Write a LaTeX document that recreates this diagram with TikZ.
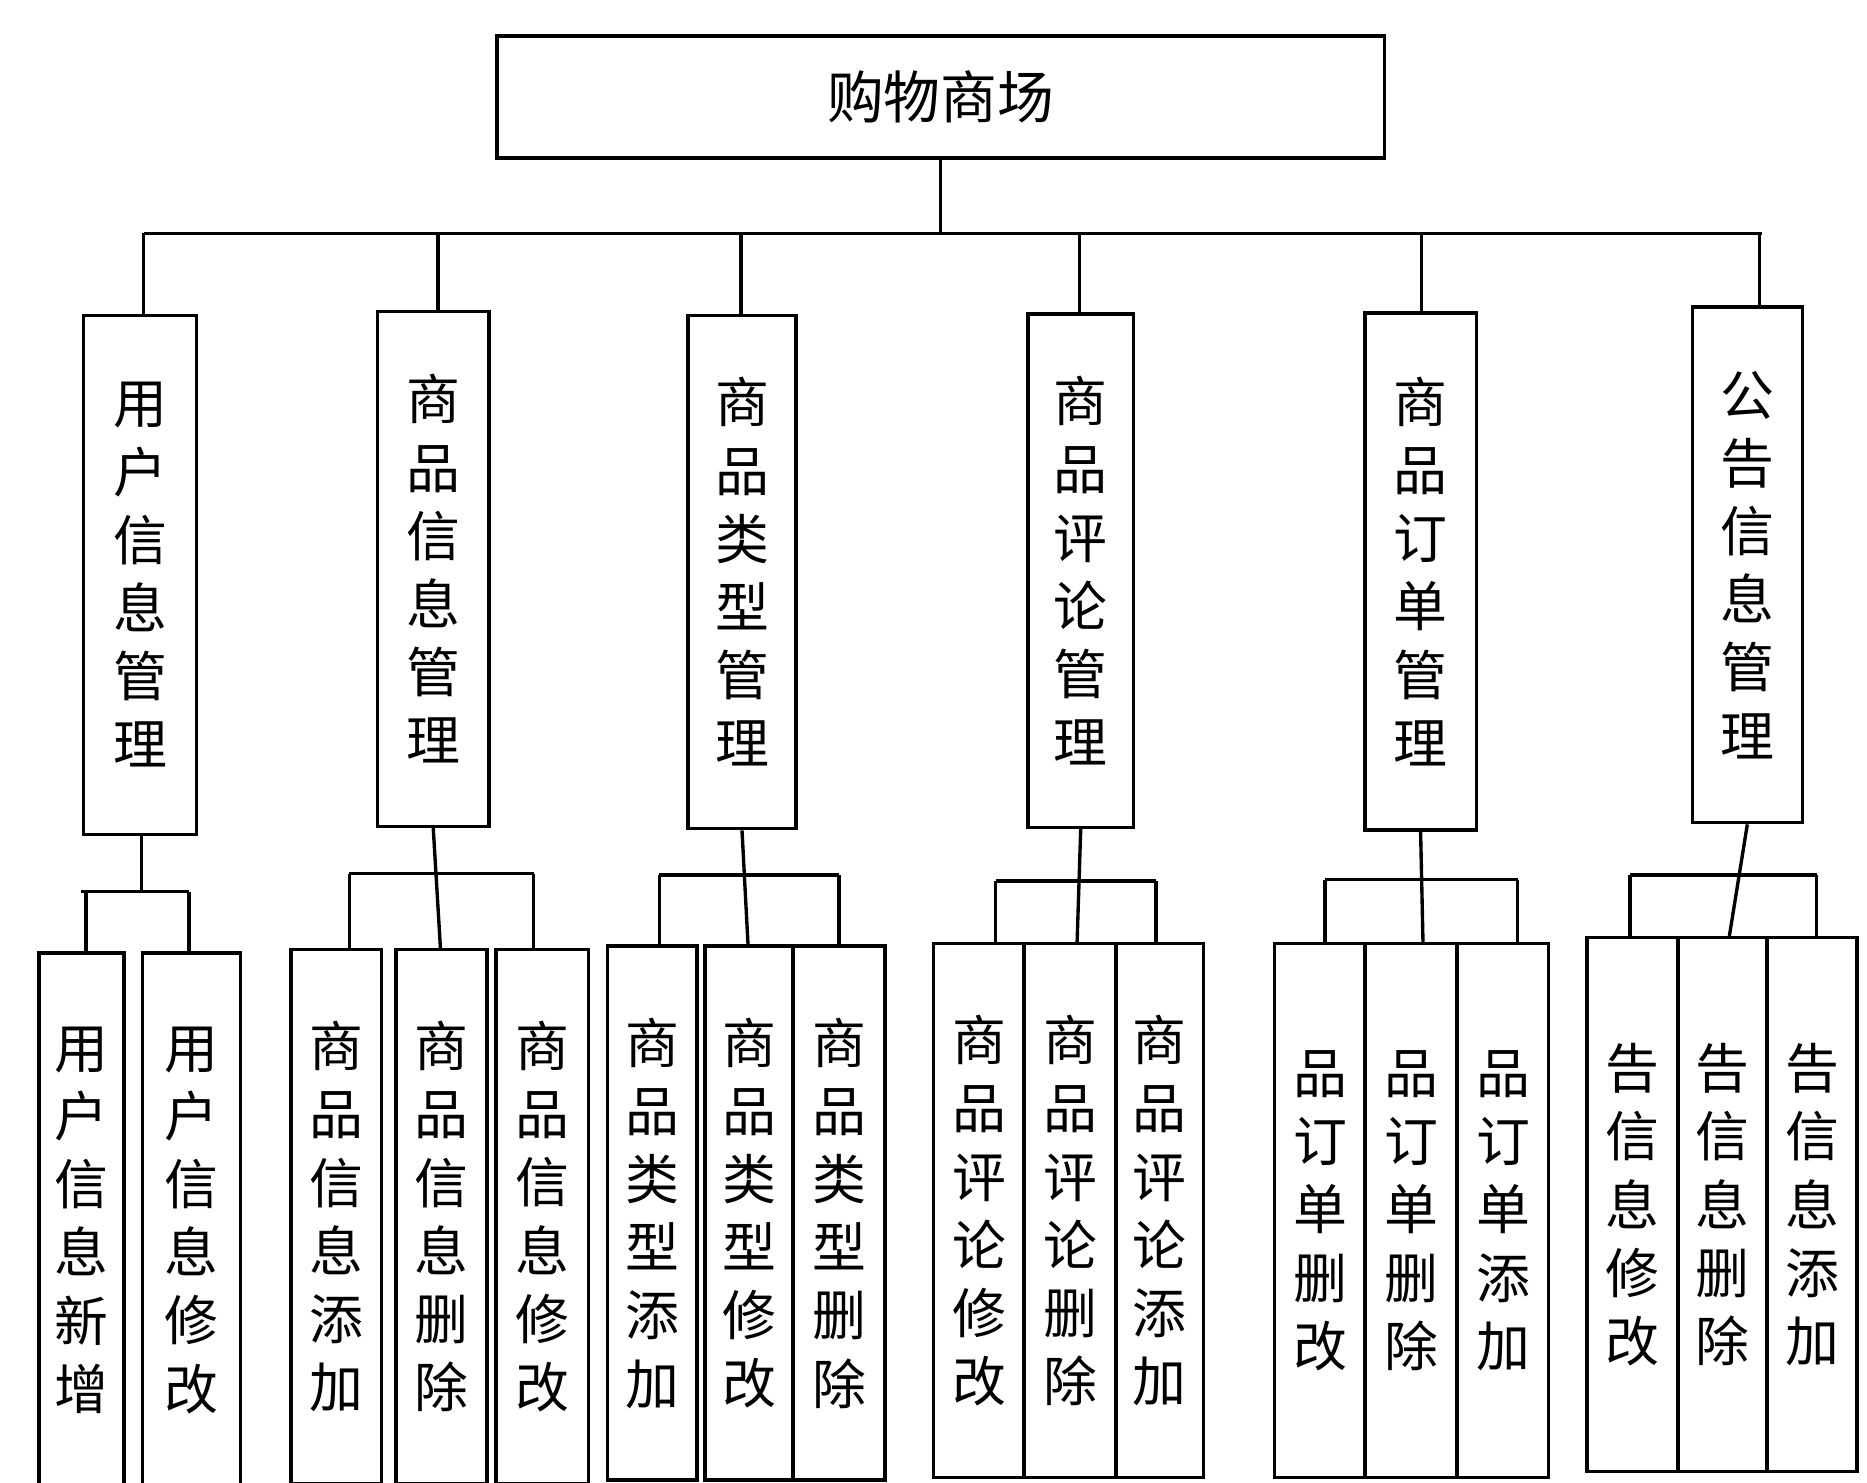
\documentclass[tikz,border=0pt]{standalone}
\usepackage{fontspec}
\newfontfamily\cjk{Noto Sans CJK SC}
\tikzset{
  box/.style={draw=black,thick,align=center,inner sep=0pt,font=\cjk\fontsize{12.8}{16.2}\selectfont},
  wire/.style={draw=black,thick}
}
\begin{document}
\begin{tikzpicture}[x=0.01cm,y=-0.01cm]
\useasboundingbox (0,0) rectangle (1560,1239);
\node[box,minimum width=7.41cm,minimum height=1.02cm,font=\cjk\fontsize{13.5}{16}\selectfont] (root) at (786,81) {购物商场};
% level 2
\foreach \n/\x/\w/\t/\h/\txt in {
  u/117/94/262/434/用\\户\\信\\息\\管\\理,
  g/362/93/259/430/商\\品\\信\\息\\管\\理,
  c/620/90/262/429/商\\品\\类\\型\\管\\理,
  r/903/88/261/429/商\\品\\评\\论\\管\\理,
  o/1187/93/260/432/商\\品\\订\\单\\管\\理,
  a/1460/92/255/431/公\\告\\信\\息\\管\\理}
  \node[box,minimum width=\w*0.01cm,minimum height=\h*0.01cm,anchor=north] (\n) at (\x,\t) {\txt};
\coordinate (bl) at (120,195);
\coordinate (br) at (1472,195);
\draw[wire] (root.south) -- (root.south |- bl);
\draw[wire] (bl) -- (br);
\foreach \n/\x in {u/120,g/366,c/619,r/902,o/1188,a/1470}
  \draw[wire] (\x,195) -- (\x,0 |- \n.north);
% level 3
\foreach \n/\x/\w/\t/\txt in {
  u1/68/71/795/用\\户\\信\\息\\新\\增,
  u2/160/82/795/用\\户\\信\\息\\修\\改,
  g1/281/76/792/商\\品\\信\\息\\添\\加,
  g2/369/76/792/商\\品\\信\\息\\删\\除,
  g3/453/77/792/商\\品\\信\\息\\修\\改,
  c1/545/75/789/商\\品\\类\\型\\添\\加,
  c2/626/74/789/商\\品\\类\\型\\修\\改,
  c3/701/77/789/商\\品\\类\\型\\删\\除,
  r1/818/76/787/商\\品\\评\\论\\修\\改,
  r2/894/77/787/商\\品\\评\\论\\删\\除,
  r3/969/73/787/商\\品\\评\\论\\添\\加,
  o1/1103/76/787/品\\订\\单\\删\\改,
  o2/1179/77/787/品\\订\\单\\删\\除,
  o3/1256/76/787/品\\订\\单\\添\\加,
  a1/1364/76/782/告\\信\\息\\修\\改,
  a2/1439/75/782/告\\信\\息\\删\\除,
  a3/1514/75/782/告\\信\\息\\添\\加}
  \node[box,minimum width=\w*0.01cm,minimum height=4.46cm,anchor=north] (\n) at (\x,\t) {\txt};
% group buses
\draw[wire] (118,696) -- (118,745);
\draw[wire] (68,745) -- (158,745);
\draw[wire] (72,745) -- (72,0 |- u1.north);
\draw[wire] (158,745) -- (158,0 |- u2.north);
\foreach \n/\s/\l/\m/\r/\y in {g/369/292/368/446/730, c/625/551/625/701/731,
  r/900/832/900/966/736, o/1189/1107/1189/1268/735, a/1445/1362/1445/1518/731}{
  \draw[wire] (\l,\y) -- (\r,\y);
  \draw[wire] (\n.south) -- (\m,0 |- \n2.north);
  \draw[wire] (\l,\y) -- (\l,0 |- \n1.north);
  \draw[wire] (\r,\y) -- (\r,0 |- \n3.north);
}
\end{tikzpicture}
\end{document}
